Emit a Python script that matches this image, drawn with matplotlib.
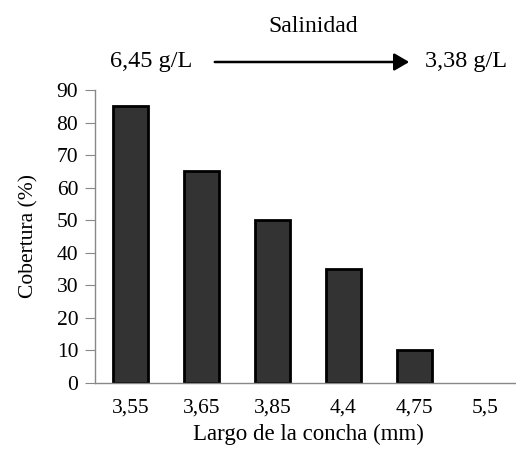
import matplotlib
matplotlib.use('Agg')
import matplotlib.pyplot as plt

categorias = ['3,55', '3,65', '3,85', '4,4', '4,75', '5,5']
cobertura = [85, 65, 50, 35, 10, 0]
yticks = [0, 10, 20, 30, 40, 50, 60, 70, 80, 90]

plt.rcParams['font.family'] = ['Liberation Serif', 'DejaVu Serif']

W, H = 516, 453
fig = plt.figure(figsize=(W / 100, H / 100), dpi=100)
# axes: x from 95 to 521 px, y from 90 to 383 px
ax = fig.add_axes([95 / W, 1 - 383 / H, 426 / W, 293 / H])

x = list(range(len(categorias)))
bars = ax.bar(x, cobertura, width=0.48, color='#333333', edgecolor='black', linewidth=2)
for b, v in zip(bars, cobertura):
    if v == 0:
        b.set_visible(False)

ax.set_xlim(-0.5, len(categorias) - 0.5)
ax.set_ylim(0, 90)
ax.set_yticks(yticks)
ax.set_xticks(x)
ax.set_xticklabels(categorias)
ax.tick_params(axis='x', length=0, pad=11, labelsize=15.5)
ax.tick_params(axis='y', length=7, color='#888888', direction='out', pad=5, labelsize=15.5)

for s in ['top', 'right']:
    ax.spines[s].set_visible(False)
for s in ['left', 'bottom']:
    ax.spines[s].set_color('#888888')
    ax.spines[s].set_linewidth(1.0)

ax.set_xlabel('Largo de la concha (mm)', fontsize=16.5, labelpad=5)
ax.set_ylabel('Cobertura (%)', fontsize=15.5, labelpad=13)

fig.text(313 / W, 1 - 27 / H, 'Salinidad', ha='center', va='center', fontsize=17)
fig.text(151 / W, 1 - 62 / H, '6,45 g/L', ha='center', va='center', fontsize=17.5)
fig.text(466 / W, 1 - 62 / H, '3,38 g/L', ha='center', va='center', fontsize=17.5)
fig.add_artist(matplotlib.patches.FancyArrowPatch(
    (212 / W, 1 - 62 / H), (412 / W, 1 - 62 / H), transform=fig.transFigure,
    arrowstyle='-|>,head_length=6,head_width=3.5', mutation_scale=1.5,
    color='black', linewidth=1.8))

fig.savefig('out.png', dpi=100)
